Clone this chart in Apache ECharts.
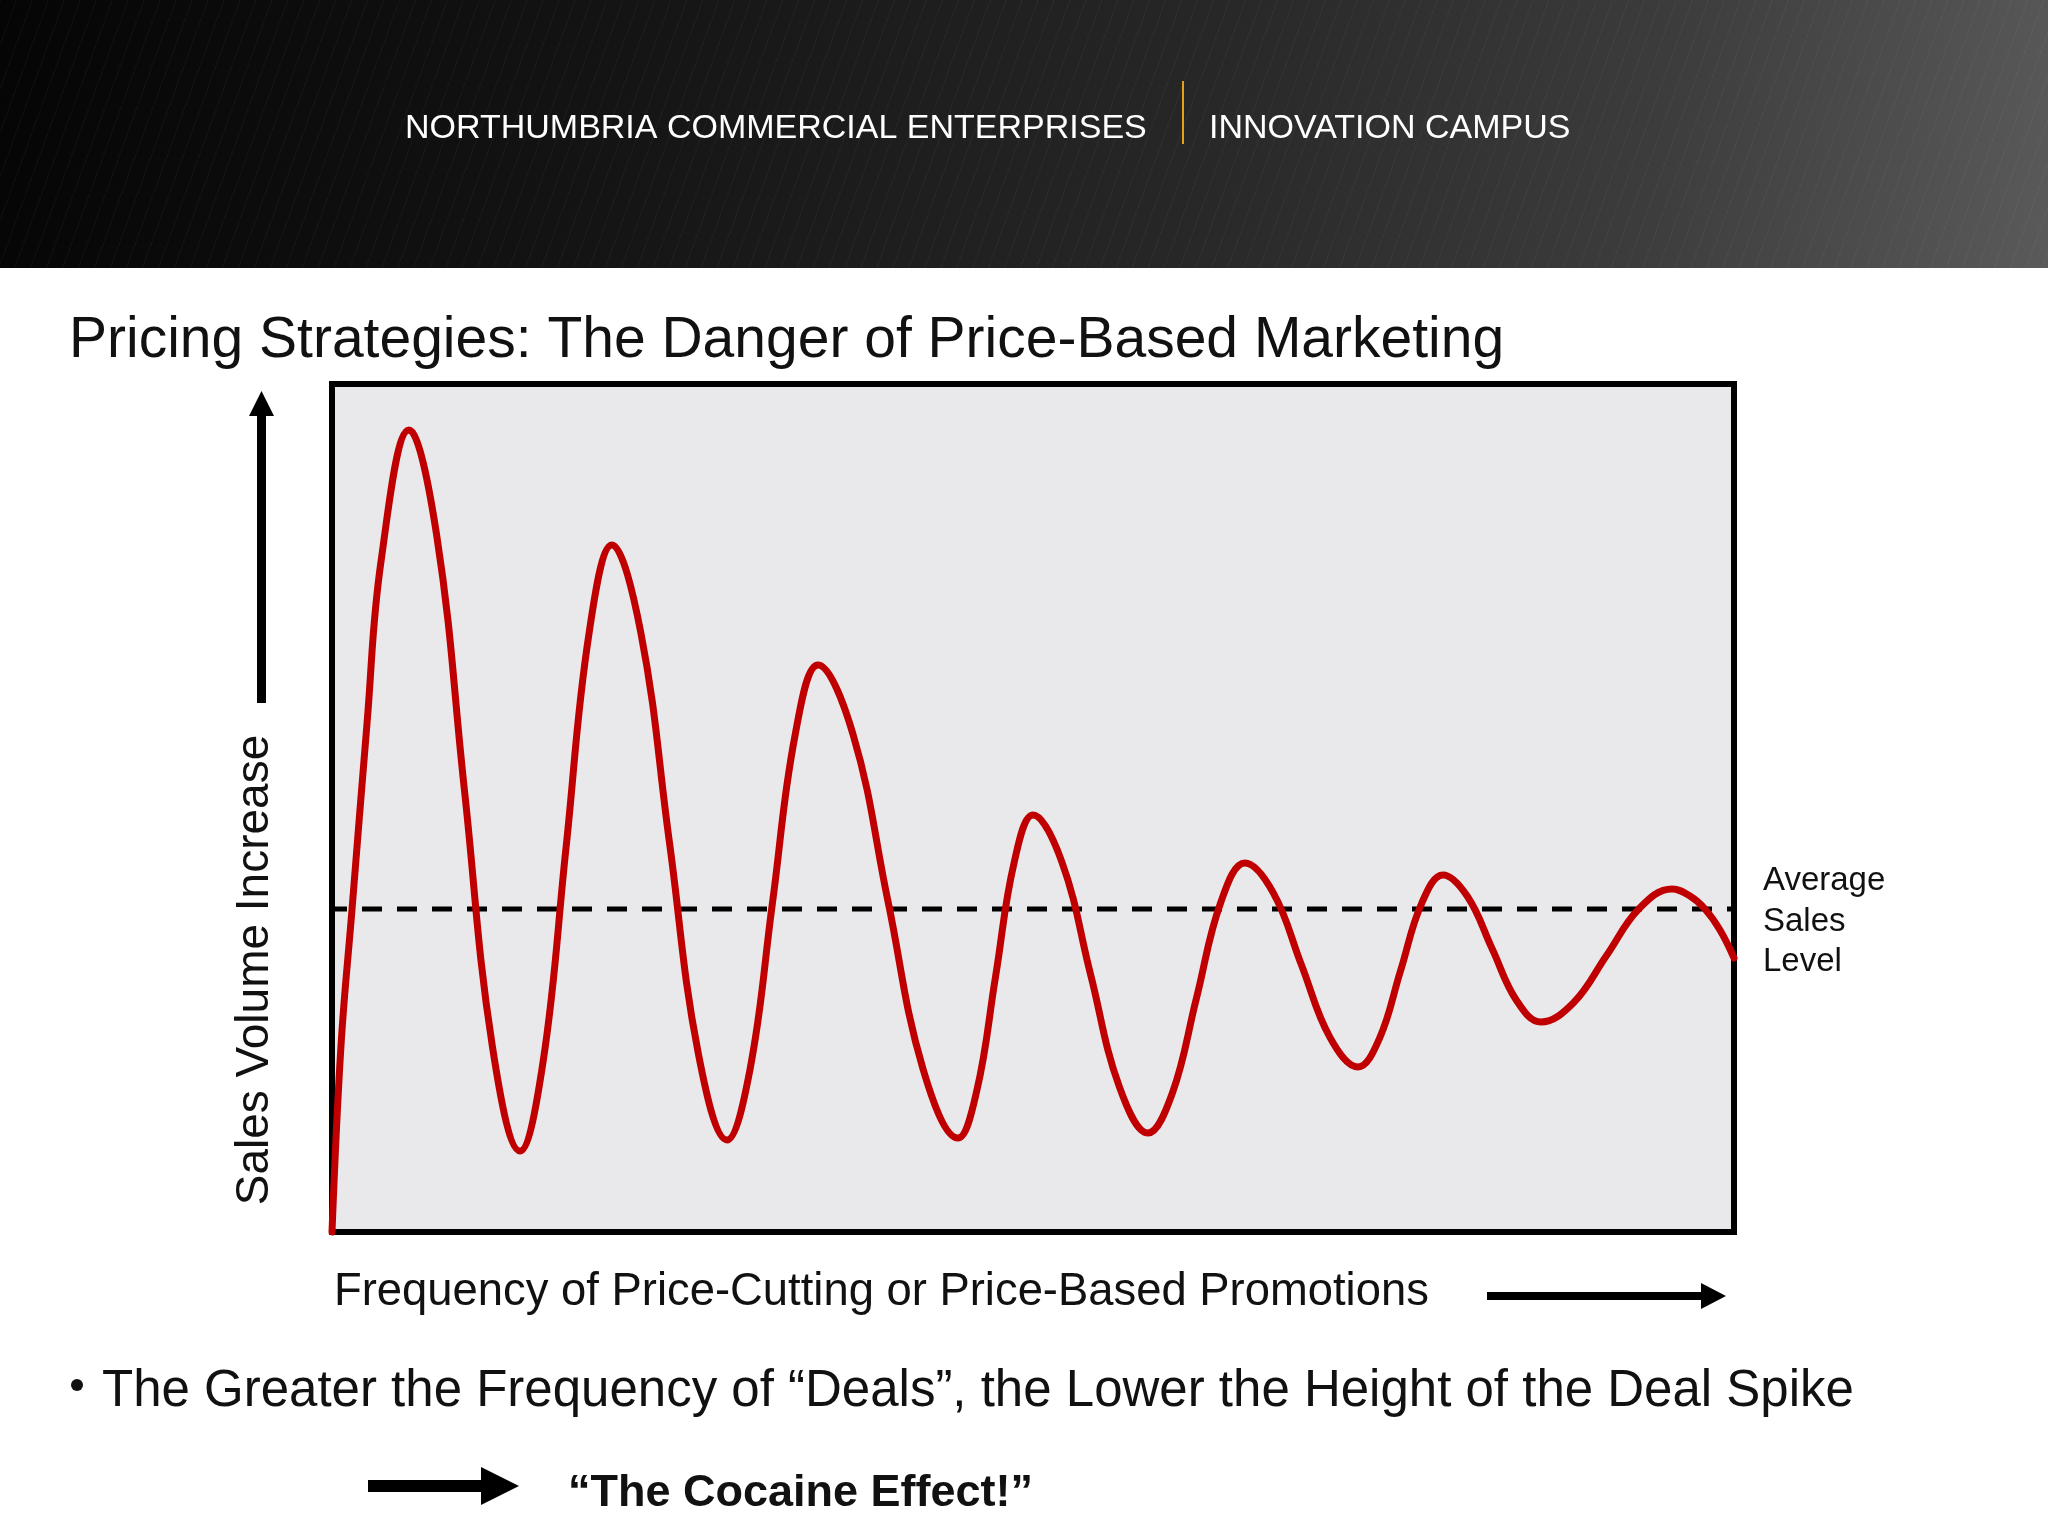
<!DOCTYPE html>
<html>
<head>
<meta charset="utf-8">
<script src="https://cdn.jsdelivr.net/npm/echarts@6.0.0/dist/echarts.min.js"></script>
<style>
  html, body { margin: 0; padding: 0; background: #ffffff; }
  #wrap { position: relative; width: 2048px; height: 1536px; background: #ffffff; overflow: hidden; }
  #header {
    position: absolute; left: 0; top: 0; width: 2048px; height: 268px;
    background:
      repeating-linear-gradient(110deg, rgba(255,255,255,0.035) 0px, rgba(255,255,255,0.035) 1px, rgba(0,0,0,0) 1px, rgba(0,0,0,0) 15px),
      linear-gradient(100deg, #050505 0%, #141414 30%, #272727 58%, #3c3c3c 80%, #5a5a5a 100%);
  }
  #chart { position: absolute; left: 0; top: 0; width: 2048px; height: 1536px; }
</style>
</head>
<body>
<div id="wrap">
  <div id="header"></div>
  <div id="chart"></div>
</div>
<script>
// ---- data (x: frequency 0-100, y: sales volume 0-100) ----
const frequency = [
  0, 0.64, 1.43, 2.50, 3.50, 5.49,
  7.47, 9.45, 11.43, 13.41,
  15.05, 16.69, 18.33, 19.97,
  22.02, 24.07, 26.12, 28.17,
  29.80, 31.42, 33.04, 34.66,
  37.16, 39.66, 42.15, 44.65,
  45.99, 47.33, 48.66, 50.00,
  52.05, 54.10, 56.15, 58.20,
  59.93, 61.66, 63.39, 65.12,
  67.14, 69.15, 71.17, 73.18,
  74.70, 76.21, 77.73, 79.24,
  80.99, 82.74, 84.49, 86.23,
  88.57, 90.91, 93.24, 95.58,
  96.86, 97.93, 99.00, 100
];
const salesVolume = [
  0, 21.93, 38.09, 60.02, 79.13, 94.58,
  82.12, 52.06, 22.00, 9.55,
  20.01, 45.28, 70.55, 81.01,
  70.74, 45.93, 21.12, 10.85,
  19.04, 38.86, 58.67, 66.86,
  58.70, 38.97, 19.25, 11.08,
  16.66, 30.13, 43.60, 49.17,
  43.68, 30.42, 17.17, 11.67,
  16.33, 27.59, 38.86, 43.51,
  39.99, 31.49, 22.98, 19.46,
  22.77, 30.78, 38.79, 42.10,
  39.56, 33.43, 27.30, 24.76,
  27.06, 32.61, 38.15, 40.45,
  39.62, 38.09, 35.61, 32.31
];
const averageLevel = 38.1;
const axisRange = [0, 100];

const headerLeft = 'NORTHUMBRIA COMMERCIAL ENTERPRISES';
const headerRight = 'INNOVATION CAMPUS';
const titleText = 'Pricing Strategies: The Danger of Price-Based Marketing';
const yLabel = 'Sales Volume Increase';
const xLabel = 'Frequency of Price-Cutting or Price-Based Promotions';
const avgLabel = ['Average', 'Sales', 'Level'];
const bulletText = 'The Greater the Frequency of \u201CDeals\u201D, the Lower the Height of the Deal Spike';
const effectText = '\u201CThe Cocaine Effect!\u201D';

const curveData = frequency.map((x, i) => [x, salesVolume[i]]);
const avgData = [[axisRange[0], averageLevel], [axisRange[1], averageLevel]];

const FF = '"Liberation Sans", Arial, Helvetica, sans-serif';

const chart = echarts.init(document.getElementById('chart'), null, { renderer: 'canvas', width: 2048, height: 1536 });

const option = {
  backgroundColor: 'transparent',
  animation: false,
  grid: {
    left: 332, right: 314, top: 384, bottom: 304,
    show: true, backgroundColor: '#e9e9eb', borderColor: '#000000', borderWidth: 6
  },
  xAxis: { type: 'value', min: axisRange[0], max: axisRange[1], show: false },
  yAxis: { type: 'value', min: axisRange[0], max: axisRange[1], show: false },
  series: [
    {
      type: 'line', data: avgData, symbol: 'none', z: 2,
      lineStyle: { color: '#000000', width: 5, type: [20, 15], dashOffset: 5 }
    },
    {
      type: 'line', data: curveData, symbol: 'none', smooth: 0.4, z: 3, clip: false,
      lineStyle: { color: '#c00000', width: 7, cap: 'round', join: 'round' }
    }
  ],
  graphic: [
    { type: 'text', x: 405, y: 129, style: { text: headerLeft, fill: '#ffffff', font: '34px ' + FF, textAlign: 'left', verticalAlign: 'middle' } },
    { type: 'line', shape: { x1: 1183, y1: 81, x2: 1183, y2: 144 }, style: { stroke: '#e6a11c', lineWidth: 2 } },
    { type: 'text', x: 1209, y: 129, style: { text: headerRight, fill: '#ffffff', font: '34px ' + FF, textAlign: 'left', verticalAlign: 'middle' } },

    { type: 'text', x: 69, y: 341, style: { text: titleText, fill: '#111111', font: '57px ' + FF, textAlign: 'left', verticalAlign: 'middle' } },

    { type: 'text', x: 255, y: 970, rotation: Math.PI / 2, style: { text: yLabel, fill: '#111111', font: '46px ' + FF, textAlign: 'center', verticalAlign: 'middle' } },
    { type: 'rect', shape: { x: 257, y: 414, width: 9, height: 289 }, style: { fill: '#000000' } },
    { type: 'polygon', shape: { points: [[249, 416], [261.5, 391], [274, 416]] }, style: { fill: '#000000' } },

    { type: 'text', x: 334, y: 1292, style: { text: xLabel, fill: '#111111', font: '45.4px ' + FF, textAlign: 'left', verticalAlign: 'middle' } },
    { type: 'rect', shape: { x: 1487, y: 1292, width: 216, height: 8 }, style: { fill: '#000000' } },
    { type: 'polygon', shape: { points: [[1701, 1283], [1726, 1296], [1701, 1309]] }, style: { fill: '#000000' } },

    { type: 'text', x: 1763, y: 881, style: { text: avgLabel[0], fill: '#111111', font: '33px ' + FF, textAlign: 'left', verticalAlign: 'middle' } },
    { type: 'text', x: 1763, y: 922, style: { text: avgLabel[1], fill: '#111111', font: '33px ' + FF, textAlign: 'left', verticalAlign: 'middle' } },
    { type: 'text', x: 1763, y: 962, style: { text: avgLabel[2], fill: '#111111', font: '33px ' + FF, textAlign: 'left', verticalAlign: 'middle' } },

    { type: 'circle', shape: { cx: 77, cy: 1385, r: 6 }, style: { fill: '#111111' } },
    { type: 'text', x: 102, y: 1392, style: { text: bulletText, fill: '#111111', font: '51px ' + FF, textAlign: 'left', verticalAlign: 'middle' } },

    { type: 'rect', shape: { x: 368, y: 1480, width: 115, height: 12 }, style: { fill: '#000000' } },
    { type: 'polygon', shape: { points: [[481, 1467], [519, 1486], [481, 1505]] }, style: { fill: '#000000' } },
    { type: 'text', x: 568, y: 1494, style: { text: effectText, fill: '#111111', font: 'bold 45px ' + FF, textAlign: 'left', verticalAlign: 'middle' } }
  ]
};
chart.setOption(option);
</script>
</body>
</html>
